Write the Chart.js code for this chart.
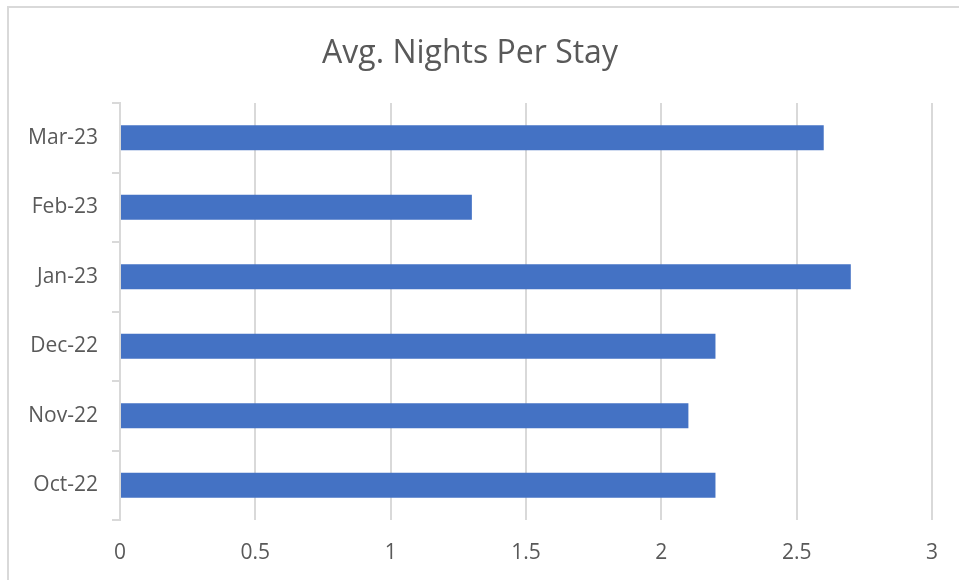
<!DOCTYPE html>
<html>
<head>
<meta charset="utf-8">
<script src="https://cdn.jsdelivr.net/npm/chart.js@4"></script>
<style>
  html, body { margin: 0; padding: 0; background: #fff; }
  #wrap { width: 959px; height: 580px; position: relative; }
</style>
</head>
<body>
<div id="wrap"><canvas id="graficoNoches"></canvas></div>
<script>
// datos del grafico
const meses = ['Mar-23', 'Feb-23', 'Jan-23', 'Dec-22', 'Nov-22', 'Oct-22'];
const nochesPromedio = [2.6, 1.3, 2.7, 2.2, 2.1, 2.2];
const tituloGrafico = 'Avg. Nights Per Stay';

// marco gris del grafico (estilo Excel)
const marco = {
    id: 'marco',
    beforeDraw(chart) {
        const c = chart.ctx;
        c.save();
        c.strokeStyle = '#d9d9d9';
        c.lineWidth = 2;
        c.strokeRect(8, 7, chart.width + 10, chart.height + 10);
        c.restore();
    }
};

document.addEventListener('DOMContentLoaded', function(){
    const ctx = document.getElementById('graficoNoches').getContext('2d');
    new Chart(ctx, {
        type: 'bar',
        data: {
            labels: meses,
            datasets: [{
                label: tituloGrafico,
                data: nochesPromedio,
                backgroundColor: '#4472c4',
                borderWidth: 0,
                categoryPercentage: 1,
                barPercentage: 0.36
            }]
        },
        options: {
            indexAxis: 'y',
            responsive: true,
            maintainAspectRatio: false,
            animation: false,
            layout: { padding: { left: 8, right: 27, top: 0, bottom: 0 } },
            plugins: {
                legend: { display: false },
                tooltip: { enabled: false },
                title: {
                    display: true,
                    text: tituloGrafico,
                    color: '#595959',
                    font: { family: 'Open Sans', size: 32, weight: 'normal' },
                    padding: { top: 35, bottom: 29.6 }
                }
            },
            scales: {
                x: {
                    min: 0,
                    max: 3,
                    ticks: {
                        stepSize: 0.5,
                        color: '#595959',
                        font: { family: 'Open Sans', size: 21 },
                        padding: 20,
                        callback: v => String(v)
                    },
                    grid: { color: '#d9d9d9', lineWidth: 2, drawTicks: false },
                    border: { display: false },
                    afterFit: function(scale) { scale.height = 60; }
                },
                y: {
                    ticks: {
                        color: '#595959',
                        font: { family: 'Open Sans', size: 21 },
                        padding: 14
                    },
                    grid: {
                        offset: true,
                        drawOnChartArea: false,
                        tickLength: 8,
                        color: '#d9d9d9',
                        lineWidth: 2
                    },
                    border: { display: true, color: '#d9d9d9', width: 2 },
                    afterFit: function(scale) { scale.width = 112; }
                }
            }
        },
        plugins: [marco]
    });
});
</script>
</body>
</html>
